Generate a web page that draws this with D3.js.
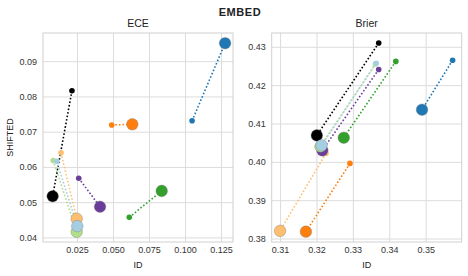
<!DOCTYPE html>
<html><head><meta charset="utf-8">
<script src="https://cdn.jsdelivr.net/npm/d3@7"></script>
<style>
body{margin:0;background:#fff;}
text{font-family:"Liberation Sans",Arial,sans-serif;}
</style></head>
<body><svg id="c" width="468" height="276"></svg>
<script>
// series (draw order)
const series = ["black","blue","orange","green","purple","lightorange","lightgreen","lightblue"];
const colors = ["#000000","#1f77b4","#ff7f0e","#33a02c","#6a3d9a","#fdbf6f","#b2df8a","#a6cee3"];

// ECE panel
const eceIdSmall    = [0.0215,0.1049,0.0491,0.0613,0.0262,0.0139,0.0085,0.0109];
const eceShiftSmall = [0.0816,0.0731,0.0719,0.0457,0.0568,0.0640,0.0618,0.0616];
const eceIdLarge    = [0.0081,0.1278,0.0634,0.0838,0.0410,0.0248,0.0248,0.0252];
const eceShiftLarge = [0.0517,0.0951,0.0721,0.0532,0.0487,0.0453,0.0416,0.0432];
const eceXTicks = [0.025,0.050,0.075,0.100,0.125];
const eceYTicks = [0.04,0.05,0.06,0.07,0.08,0.09];

// Brier panel
const brIdSmall    = [0.3371,0.3574,0.3292,0.3418,0.3371,0.3226,0.3362,0.3364];
const brShiftSmall = [0.4310,0.4265,0.3996,0.4262,0.4241,0.4022,0.4255,0.4257];
const brIdLarge    = [0.3201,0.3490,0.3171,0.3275,0.3216,0.3100,0.3211,0.3214];
const brShiftLarge = [0.4069,0.4136,0.3818,0.4063,0.4030,0.3820,0.4040,0.4043];
const brXTicks = [0.31,0.32,0.33,0.34,0.35];
const brYTicks = [0.38,0.39,0.40,0.41,0.42,0.43];

const svg = d3.select("#c");
const plotTop = 33, plotBottom = 242;

svg.append("text").attr("x",240).attr("y",16).attr("text-anchor","middle")
  .attr("font-size",11).attr("font-weight","bold").attr("letter-spacing","0.6")
  .attr("fill","#222").text("EMBED");

function panel(opt){
  const x = d3.scaleLinear().domain(opt.xd).range([opt.left,opt.right]);
  const y = d3.scaleLinear().domain(opt.yd).range([plotBottom,plotTop]);
  const g = svg.append("g");
  const gx = g.append("g").attr("transform",`translate(0,${plotBottom})`)
    .call(d3.axisBottom(x).tickValues(opt.xt).tickFormat(d3.format(opt.xf))
      .tickSize(-(plotBottom-plotTop)).tickPadding(5));
  const gy = g.append("g").attr("transform",`translate(${opt.left},0)`)
    .call(d3.axisLeft(y).tickValues(opt.yt).tickFormat(d3.format(".2f"))
      .tickSize(-(opt.right-opt.left)).tickPadding(6));
  [gx,gy].forEach(a=>{
    a.select(".domain").remove();
    a.selectAll(".tick line").attr("stroke","#dcdcdc").attr("stroke-width",1);
    a.selectAll(".tick text").attr("font-size",9).attr("fill","#333")
      .attr("font-family",'"Liberation Sans",Arial,sans-serif');
  });
  g.append("rect").attr("x",opt.left).attr("y",plotTop)
    .attr("width",opt.right-opt.left).attr("height",plotBottom-plotTop)
    .attr("fill","none").attr("stroke","#d0d0d0").attr("stroke-width",1);
  g.append("text").attr("x",(opt.left+opt.right)/2).attr("y",27)
    .attr("text-anchor","middle").attr("font-size",10.5).attr("fill","#222").text(opt.title);
  g.append("text").attr("x",(opt.left+opt.right)/2).attr("y",268)
    .attr("text-anchor","middle").attr("font-size",9).attr("fill","#222").text("ID");
  if(opt.ylabel){
    g.append("text").attr("transform",`translate(13,${(plotTop+plotBottom)/2}) rotate(-90)`)
      .attr("text-anchor","middle").attr("font-size",9).attr("fill","#222").text(opt.ylabel);
  }
  const idx = d3.range(series.length);
  g.append("g").selectAll("line").data(idx).join("line")
    .attr("x1",i=>x(opt.xs[i])).attr("y1",i=>y(opt.ys[i]))
    .attr("x2",i=>x(opt.xl[i])).attr("y2",i=>y(opt.yl[i]))
    .attr("stroke",i=>colors[i]).attr("stroke-width",1.6)
    .attr("stroke-dasharray","1.6,2").attr("stroke-linecap","butt");
  g.append("g").selectAll("circle").data(idx).join("circle")
    .attr("cx",i=>x(opt.xs[i])).attr("cy",i=>y(opt.ys[i])).attr("r",2.8)
    .attr("fill",i=>colors[i]);
  g.append("g").selectAll("circle").data(idx).join("circle")
    .attr("cx",i=>x(opt.xl[i])).attr("cy",i=>y(opt.yl[i])).attr("r",5.8)
    .attr("fill",i=>colors[i]).attr("stroke","#777").attr("stroke-opacity",0.6).attr("stroke-width",0.6);
}

panel({left:43,right:233,xd:[0.0014,0.1333],yd:[0.0387,0.098],xt:eceXTicks,yt:eceYTicks,xf:".3f",
  title:"ECE",ylabel:"SHIFTED",xs:eceIdSmall,ys:eceShiftSmall,xl:eceIdLarge,yl:eceShiftLarge});
panel({left:271.7,right:461.7,xd:[0.3077,0.3599],yd:[0.3791,0.4336],xt:brXTicks,yt:brYTicks,xf:".2f",
  title:"Brier",ylabel:null,xs:brIdSmall,ys:brShiftSmall,xl:brIdLarge,yl:brShiftLarge});
</script></body></html>
